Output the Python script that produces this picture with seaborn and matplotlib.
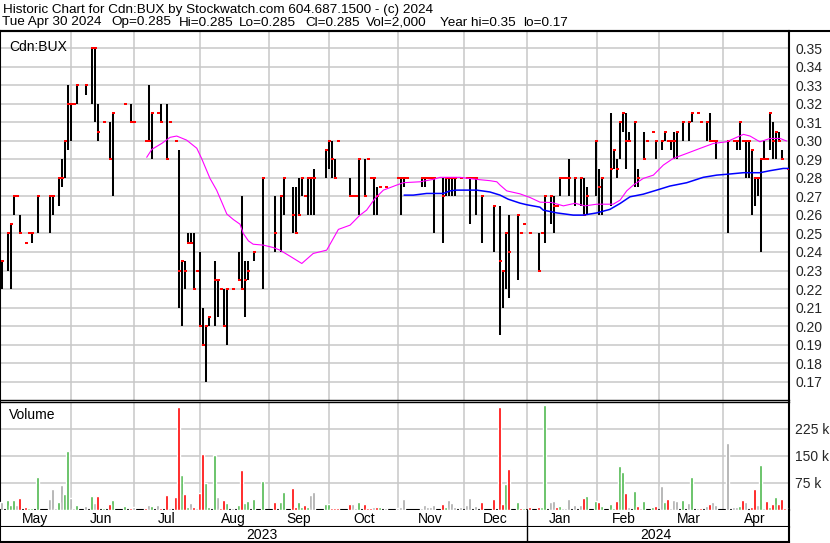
import matplotlib
matplotlib.use("Agg")
import matplotlib.pyplot as plt
import numpy as np
import pandas as pd
import seaborn as sns

# ---------------- data ----------------
title_line1 = "Historic Chart for Cdn:BUX by Stockwatch.com 604.687.1500 - (c) 2024"
title_line2_parts = ["Tue Apr 30 2024", "Op=0.285", "Hi=0.285", "Lo=0.285", "Cl=0.285",
                     "Vol=2,000", "Year hi=0.35", "lo=0.17"]
symbol_label = "Cdn:BUX"
volume_label = "Volume"

# trading-day index of each price bar, with high / low / close
bar_day = [0, 2, 3, 4, 5, 6, 8, 9, 10, 12, 16, 17, 19, 20, 21, 22, 23, 24, 25, 28,
           30, 31, 32, 34, 36, 37, 41, 43, 44, 48, 49, 50, 52, 53, 55, 56, 58, 59, 60, 61,
           62, 63, 64, 65, 66, 67, 68, 69, 71, 72, 73, 74, 75, 77, 79, 80, 81, 82, 84, 87,
           91, 93, 94, 97, 98, 99, 100, 101, 102, 103, 104, 108, 109, 110, 111, 112, 116, 117, 118, 119,
           121, 122, 123, 124, 125, 126, 128, 132, 133, 134, 135, 140, 141, 142, 143, 144, 147, 148, 149, 150,
           151, 153, 155, 156, 157, 158, 160, 164, 166, 167, 168, 169, 172, 173, 174, 176, 179, 180, 181, 183,
           184, 185, 186, 187, 188, 189, 191, 193, 194, 195, 198, 199, 200, 203, 204, 205, 206, 207, 208, 209,
           211, 212, 214, 215, 217, 218, 220, 221, 222, 223, 224, 225, 227, 229, 230, 232, 233, 235, 236, 237,
           238, 242, 244, 245, 246, 247, 248, 249, 250, 251, 252, 253, 254, 255, 256, 257, 258, 259, 260, 262]
bar_high = [.235, .25, .255, .27, .27, .26, .245, .25, .25, .27, .27, .27, .28, .29, .30, .33, .32, .32, .33, .33,
            .35, .35, .32, .31, .31, .315, .32, .32, .31, .30, .33, .315, .315, .32, .32, .31, .30, .295, .235, .235,
            .25, .25, .25, .23, .24, .21, .20, .205, .235, .225, .22, .22, .22, .22, .24, .27, .235, .235, .24, .28,
            .27, .27, .28, .275, .275, .28, .28, .27, .28, .28, .285, .295, .30, .30, .29, .30, .28, .27, .27, .29,
            .29, .29, .28, .28, .275, .275, .275, .28, .28, .28, .28, .28, .28, .28, .28, .28, .28, .28, .28, .28,
            .28, .28, .28, .28, .28, .28, .27, .265, .265, .23, .25, .26, .26, .25, .255, .25, .25, .25, .27, .27,
            .27, .265, .28, .28, .28, .29, .28, .28, .28, .275, .30, .285, .28, .315, .295, .29, .31, .315, .315, .305,
            .31, .285, .305, .30, .305, .30, .30, .305, .30, .30, .305, .305, .31, .31, .315, .315, .31, .31, .315, .30,
            .30, .30, .30, .30, .31, .30, .30, .30, .295, .28, .28, .29, .30, .29, .315, .31, .305, .305, .295, .285]
bar_low = [.22, .23, .22, .26, .27, .25, .245, .25, .245, .25, .25, .26, .265, .275, .28, .295, .30, .32, .32, .325,
           .32, .31, .30, .31, .29, .27, .32, .31, .31, .30, .30, .29, .315, .31, .29, .31, .30, .21, .20, .22,
           .245, .245, .22, .23, .20, .19, .17, .20, .20, .205, .22, .20, .19, .22, .225, .22, .205, .225, .235, .22,
           .24, .24, .26, .25, .25, .26, .27, .27, .26, .26, .26, .28, .285, .28, .28, .30, .27, .27, .27, .26,
           .27, .29, .28, .26, .26, .275, .275, .28, .26, .275, .28, .275, .275, .28, .28, .25, .245, .27, .27, .27,
           .27, .28, .28, .255, .28, .26, .245, .24, .195, .21, .22, .215, .225, .25, .255, .25, .23, .25, .245, .255,
           .25, .265, .27, .28, .28, .27, .265, .265, .26, .26, .27, .26, .26, .265, .285, .28, .29, .305, .285, .30,
           .275, .275, .29, .30, .305, .29, .295, .30, .30, .295, .29, .29, .30, .30, .31, .315, .31, .30, .30, .30,
           .29, .25, .30, .295, .295, .30, .28, .28, .26, .265, .27, .24, .29, .29, .295, .29, .29, .30, .29, .285]
bar_close = [.235, .25, .255, .27, .27, .25, .245, .25, .25, .27, .27, .27, .28, .28, .30, .32, .32, .32, .33, .33,
             .35, .35, .305, .31, .29, .315, .32, .31, .31, .30, .30, .315, .315, .31, .29, .31, .30, .23, .235, .23,
             .245, .245, .22, .23, .20, .19, .20, .205, .225, .225, .22, .20, .22, .22, .225, .22, .225, .23, .24, .28,
             .25, .27, .28, .26, .25, .26, .28, .27, .28, .28, .28, .295, .30, .29, .28, .30, .27, .27, .27, .29,
             .27, .29, .28, .28, .27, .275, .275, .28, .28, .28, .28, .28, .28, .28, .28, .28, .27, .28, .28, .28,
             .28, .28, .28, .28, .28, .28, .27, .265, .235, .23, .25, .24, .26, .25, .255, .25, .23, .25, .27, .27,
             .265, .265, .28, .28, .28, .28, .28, .28, .26, .27, .30, .275, .28, .285, .295, .285, .31, .315, .30, .30,
             .31, .28, .29, .30, .305, .30, .30, .305, .30, .30, .30, .305, .31, .31, .315, .315, .31, .31, .30, .30,
             .30, .30, .30, .30, .31, .30, .30, .30, .295, .28, .28, .29, .29, .29, .315, .30, .305, .30, .29, .285]

# moving averages sampled along the drawn curves (day index, price)
ma_fast_day = [48.4, 50.1, 53.4, 56.2, 58.4, 61.7, 65.1, 66.7, 69.5, 71.7, 73.4, 75.1, 77.3, 79.5, 80.6,
               82.3, 83.9, 87.3, 90.6, 92.8, 96.2, 100.1, 103.9, 108.4, 112.3, 116.2, 119.5, 121.7, 124.5,
               127.3, 131.7, 133.9, 139.5, 143.9, 146.2, 152.8, 158.4, 162.8, 165.1, 166.2, 168.4, 172.8,
               176.2, 179.5, 183.4, 187.3, 191.2, 194.5, 198.4, 203.9, 206.2, 208.4, 210.6, 213.9, 217.3,
               220.6, 223.9, 228.4, 232.8, 237.3, 241.7, 247.3, 249.5, 252.8, 256.2, 259.5, 261.7]
ma_fast_val = [.2911, .2954, .2986, .3019, .3026, .3004, .2960, .2905, .2797, .2734, .2670, .2605, .2575,
               .2550, .2500, .2460, .2442, .2437, .2424, .2410, .2377, .2338, .2392, .2410, .2522, .2545,
               .2599, .2626, .2689, .2734, .2761, .2774, .2779, .2792, .2803, .2803, .2792, .2785, .2779,
               .2761, .2730, .2714, .2694, .2669, .2667, .2649, .2663, .2649, .2658, .2658, .2680, .2730,
               .2761, .2797, .2815, .2869, .2905, .2932, .2959, .2986, .2995, .3035, .3026, .2995, .3013,
               .3013, .2999]
ma_slow_day = [134.2, 137.3, 141.7, 147.3, 149.5, 151.7, 158.4, 162.8, 166.2, 168.9, 172.8, 175.1,
               179.5, 180.6, 185.1, 190.6, 193.9, 198.4, 202.8, 206.2, 209.5, 213.9, 218.4, 222.8,
               228.4, 233.9, 238.4, 242.8, 247.3, 252.8, 256.2, 260.6, 262.3]
ma_slow_val = [.2707, .2707, .2716, .2716, .2730, .2734, .2734, .2724, .2707, .2685, .2664, .2655,
               .2642, .2626, .2611, .2599, .2599, .2611, .2630, .2662, .2698, .2712, .2734, .2756,
               .2774, .2803, .2815, .2821, .2828, .2828, .2839, .2851, .2851]

# daily volume (day index, shares in thousands, direction of close)
vol_day = [0, 2, 3, 4, 5, 6, 8, 9, 10, 12, 16, 17, 18, 19, 20, 21, 22, 23, 24, 25,
           28, 30, 31, 32, 34, 36, 37, 41, 43, 44, 48, 49, 50, 52, 53, 55, 56, 58, 59, 60,
           61, 62, 63, 64, 65, 66, 67, 68, 69, 71, 72, 73, 74, 75, 77, 79, 80, 81, 82, 84,
           87, 91, 93, 94, 97, 98, 99, 100, 101, 102, 103, 104, 108, 109, 110, 111, 112, 116, 117, 118,
           119, 121, 122, 123, 124, 125, 126, 128, 132, 133, 134, 140, 141, 142, 143, 144, 147, 148, 149, 150,
           151, 153, 155, 156, 158, 160, 164, 166, 167, 168, 169, 172, 173, 174, 176, 179, 180, 181, 183, 184,
           185, 186, 187, 188, 189, 191, 193, 194, 195, 198, 199, 200, 203, 204, 205, 206, 207, 208, 209, 211,
           212, 213, 214, 217, 218, 220, 221, 222, 223, 224, 225, 227, 229, 230, 232, 233, 235, 236, 237, 238,
           242, 244, 245, 246, 247, 248, 250, 251, 252, 253, 254, 255, 256, 257, 258, 259, 260, 261, 262]
vol_thousands = [21, 26, 12, 26, 12, 31, 6.5, 3, 3, 91, 29, 57, 3, 21, 68, 43, 164, 32, 3, 12,
                 9, 37, 18, 37, 3, 15, 26, 9, 3, 6, 3, 12, 9, 12, 3, 40, 3, 35, 285, 96,
                 43, 6, 18, 6, 3, 46, 154, 74, 6, 152, 35, 3, 26, 18, 3, 12, 110, 18, 23, 29,
                 79, 21, 21, 49, 60, 6, 21, 6, 12, 6, 40, 49, 15, 15, 3, 3, 3, 15, 15, 3,
                 21, 15, 3, 3, 6, 6, 6, 3, 3, 6, 29, 3, 12, 6, 6, 12, 15, 6, 26, 18,
                 6, 6, 12, 32, 9, 21, 29, 285, 15, 71, 113, 21, 3, 3, 6, 6, 6, 291, 21, 23,
                 6, 9, 3, 3, 29, 12, 12, 32, 37, 23, 21, 9, 15, 3, 23, 121, 105, 46, 6, 51,
                 9, 3, 23, 6, 9, 65, 21, 29, 3, 26, 23, 26, 18, 91, 3, 3, 9, 15, 21, 12,
                 185, 6, 6, 9, 26, 21, 6, 57, 12, 124, 3, 23, 6, 15, 35, 15, 29, 3, 2]
vol_dir = ['flat', 'up', 'up', 'up', 'flat', 'down', 'down', 'up', 'up', 'up', 'flat', 'flat', 'flat', 'up', 'flat', 'up', 'up', 'flat', 'flat', 'up',
           'flat', 'up', 'flat', 'down', 'up', 'down', 'up', 'up', 'down', 'flat', 'down', 'flat', 'up', 'flat', 'down', 'down', 'flat', 'down', 'down', 'up',
           'down', 'up', 'flat', 'down', 'flat', 'down', 'down', 'up', 'up', 'up', 'flat', 'down', 'down', 'up', 'flat', 'up', 'down', 'up', 'up', 'up',
           'up', 'down', 'up', 'up', 'down', 'down', 'up', 'up', 'down', 'up', 'flat', 'flat', 'up', 'up', 'down', 'down', 'down', 'down', 'flat', 'flat',
           'up', 'down', 'down', 'down', 'flat', 'down', 'up', 'flat', 'flat', 'flat', 'flat', 'flat', 'flat', 'flat', 'flat', 'flat', 'down', 'up', 'flat', 'flat',
           'flat', 'flat', 'flat', 'flat', 'flat', 'down', 'down', 'down', 'down', 'up', 'down', 'up', 'down', 'up', 'down', 'down', 'up', 'up', 'flat', 'flat',
           'down', 'up', 'flat', 'flat', 'flat', 'flat', 'flat', 'down', 'up', 'up', 'down', 'up', 'up', 'up', 'down', 'up', 'up', 'down', 'flat', 'up',
           'down', 'flat', 'up', 'up', 'down', 'flat', 'up', 'down', 'flat', 'flat', 'flat', 'up', 'flat', 'up', 'flat', 'down', 'flat', 'down', 'flat', 'flat',
           'flat', 'flat', 'flat', 'up', 'down', 'flat', 'down', 'down', 'flat', 'up', 'flat', 'down', 'up', 'down', 'up', 'down', 'down', 'down', 'down']

price_ticks = [0.17, 0.18, 0.19, 0.20, 0.21, 0.22, 0.23, 0.24, 0.25, 0.26,
               0.27, 0.28, 0.29, 0.30, 0.31, 0.32, 0.33, 0.34, 0.35]
vol_ticks = [75000, 150000, 225000]
vol_tick_labels = ["75 k", "150 k", "225 k"]
month_labels = ["May", "Jun", "Jul", "Aug", "Sep", "Oct", "Nov", "Dec", "Jan", "Feb", "Mar", "Apr"]
month_label_pos = [11.2, 33.2, 55.2, 77.2, 99.2, 120.8, 142.8, 164.5, 186.2, 207.5, 229.2, 251.2]
month_bounds = [23.2, 44.2, 66.2, 89.2, 109.2, 132.2, 154.2, 175.2, 198.5, 219.2, 240.5]
year_labels = ["2023", "2024"]
year_label_pos = [86.8, 218.2]
year_bound = 175.2

# ---------------- style / layout ----------------
sns.set_style("white")
plt.rcParams['font.family'] = ['Liberation Sans', 'DejaVu Sans']

W, H = 830, 543
fig = plt.figure(figsize=(W / 100, H / 100), dpi=100)
fig.patch.set_facecolor('white')


def fx(px):
    return px / W


def fy(py):
    return 1 - py / H


def panel(top, bottom, left=0, right=789):
    return fig.add_axes([fx(left), fy(bottom), fx(right) - fx(left), fy(top) - fy(bottom)])


XLIM = (-0.5, 262.5)
GRID = '#c8c8c8'
FS = 10.0
FS_TITLE = 9.7

# ---------------- title ----------------
fig.text(fx(2.5), fy(9.5), title_line1, fontsize=FS_TITLE, va='center', ha='left', color='black')
title_line2_x = [2, 111, 179, 239, 305, 366, 440, 523]
for part, px in zip(title_line2_parts, title_line2_x):
    fig.text(fx(px), fy(22.5), part, fontsize=FS_TITLE, va='center', ha='left', color='black')
fig.add_artist(plt.Line2D([0, 1], [fy(30.5), fy(30.5)], color='black', lw=1.5,
                          transform=fig.transFigure))

# ---------------- price panel ----------------
ax = panel(31, 400)
prices = pd.DataFrame({'day': bar_day, 'high': bar_high, 'low': bar_low, 'close': bar_close})
rng = prices[prices['high'] > prices['low']]
ax.vlines(rng['day'], rng['low'], rng['high'], color='black', lw=1.45, zorder=3,
          capstyle='butt')
ax.hlines(prices['close'], prices['day'] - 0.15, prices['day'] + 0.95, color='#ff0000',
          lw=1.45, zorder=4, capstyle='butt')
sns.lineplot(x=ma_fast_day, y=ma_fast_val, ax=ax, color='#ff00ff', lw=0.8,
             estimator=None, sort=False, zorder=5)
sns.lineplot(x=ma_slow_day, y=ma_slow_val, ax=ax, color='#0000ff', lw=1.1,
             estimator=None, sort=False, zorder=5)

ax.set_xlim(*XLIM)
ax.set_ylim(0.1601, 0.3593)
ax.set_yticks(price_ticks)
ax.set_yticklabels([f"{t:.2f}" for t in price_ticks])
ax.yaxis.tick_right()
ax.tick_params(axis='y', length=0, pad=4.5, labelsize=FS, labelright=True, labelleft=False)
ax.set_xticks(month_bounds)
ax.tick_params(axis='x', length=0, labelbottom=False)
ax.grid(True, color=GRID, lw=1.1)
ax.set_axisbelow(True)
ax.set_xlabel('')
ax.set_ylabel('')
for side, s in ax.spines.items():
    s.set_visible(True)
    s.set_color('black')
    s.set_linewidth(1.5 if side in ('left', 'right', 'top') else 1.0)
ax.text(0.0115, 0.975, symbol_label, transform=ax.transAxes,
        fontsize=FS, va='top', ha='left', color='black')

# ---------------- volume panel ----------------
axv = panel(402, 509.5)
vol = pd.DataFrame({'day': vol_day, 'volume': [v * 1000 for v in vol_thousands], 'dir': vol_dir})
sns.barplot(data=vol, x='day', y='volume', hue='dir', native_scale=True, dodge=False,
            palette={'up': '#4cb84c', 'down': '#ff0000', 'flat': '#a9a9a9'},
            width=0.67, saturation=1, errorbar=None, legend=False, ax=axv, zorder=3)
axv.set_xlim(*XLIM)
axv.set_ylim(0, 300000)
axv.set_yticks(vol_ticks)
axv.set_yticklabels(vol_tick_labels)
axv.yaxis.tick_right()
axv.tick_params(axis='y', length=0, pad=4.5, labelsize=FS, labelright=True, labelleft=False)
axv.set_xticks(month_bounds)
axv.tick_params(axis='x', length=0, labelbottom=False)
axv.grid(True, color=GRID, lw=1.1)
axv.set_axisbelow(True)
axv.set_xlabel('')
axv.set_ylabel('')
for side, s in axv.spines.items():
    s.set_visible(True)
    s.set_color('black')
    s.set_linewidth(1.5 if side != 'top' else 1.0)
axv.text(0.0115, 0.94, volume_label, transform=axv.transAxes, fontsize=FS,
         va='top', ha='left', color='black')

# ---------------- month row ----------------
axm = panel(509.5, 527)
axm.set_xlim(*XLIM)
axm.set_ylim(0, 1)
axm.set_xticks([])
axm.set_yticks([])
for lab, pos in zip(month_labels, month_label_pos):
    axm.text(pos, 0.45, lab, fontsize=FS, ha='center', va='center', color='black')
axm.axvline(year_bound, color='black', lw=1.0)
for side, s in axm.spines.items():
    s.set_visible(side != 'top')
    s.set_color('black')
    s.set_linewidth(1.5)

# ---------------- year row ----------------
axy = panel(527, 541.5)
axy.set_xlim(*XLIM)
axy.set_ylim(0, 1)
axy.set_xticks([])
axy.set_yticks([])
for lab, pos in zip(year_labels, year_label_pos):
    axy.text(pos, 0.45, lab, fontsize=FS, ha='center', va='center', color='black')
axy.axvline(year_bound, color='black', lw=1.0)
for side, s in axy.spines.items():
    s.set_visible(side != 'top')
    s.set_color('black')
    s.set_linewidth(1.5)

fig.savefig("out.png", dpi=100, facecolor='white')
